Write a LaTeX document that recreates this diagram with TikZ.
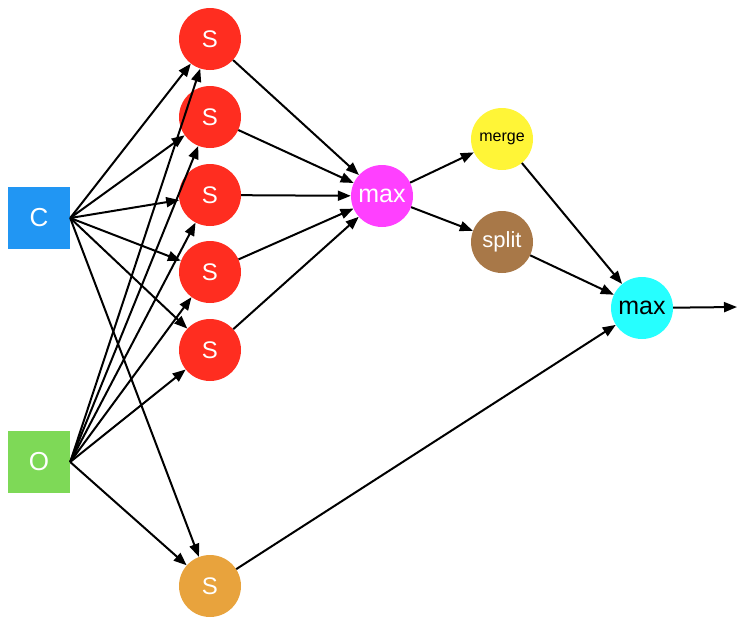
\documentclass[tikz,border=0pt]{standalone}
\usepackage{fontspec}
\setmainfont{Liberation Sans}
\usetikzlibrary{arrows.meta}
\definecolor{cblue}{RGB}{33,150,243}
\definecolor{cgreen}{RGB}{126,217,87}
\definecolor{cred}{RGB}{255,45,32}
\definecolor{corange}{RGB}{232,163,61}
\definecolor{cmag}{RGB}{255,64,255}
\definecolor{cyel}{RGB}{255,245,55}
\definecolor{cbrown}{RGB}{168,120,72}
\definecolor{ccyan}{RGB}{38,255,255}
\begin{document}
\begin{tikzpicture}[x=1pt,y=-1pt,
  box/.style={rectangle,minimum size=62pt,inner sep=0pt,text=white,font=\fontsize{26}{26}\selectfont},
  circ/.style={circle,minimum size=62pt,inner sep=0pt,text=white,font=\fontsize{24}{24}\selectfont},
  conn/.style={line width=2pt,-{Triangle[length=13pt,width=10pt]}}]
\useasboundingbox (0,0) rectangle (750,635);
\node[box,fill=cblue] (C) at (39,218) {C};
\node[box,fill=cgreen] (O) at (39,462) {O};
\node[circ,fill=cred] (s1) at (210,39) {S};
\node[circ,fill=cred] (s2) at (210,117) {S};
\node[circ,fill=cred] (s3) at (210,195) {S};
\node[circ,fill=cred] (s4) at (210,272) {S};
\node[circ,fill=cred] (s5) at (210,350) {S};
\node[circ,fill=corange] (s6) at (210,586) {S};
\node[circ,fill=cmag,font=\fontsize{25}{25}\selectfont] (m1) at (382,196) {max};
\node[circ,fill=cyel,text=black,font=\fontsize{16}{16}\selectfont] (mg) at (502,139) {merge};
\node[circ,fill=cbrown,font=\fontsize{22}{22}\selectfont] (sp) at (502,242) {split};
\node[circ,fill=ccyan,text=black,font=\fontsize{25}{25}\selectfont] (m2) at (642,308) {max};
\coordinate (out) at (737,307);
\foreach \t in {s1,s2,s3,s4,s5,s6}{
  \draw[conn] (C.east) -- (\t);
  \draw[conn] (O.east) -- (\t);
}
\foreach \t in {s1,s2,s3,s4,s5}{
  \draw[conn] (\t) -- (m1);
}
\draw[conn] (m1) -- (mg);
\draw[conn] (m1) -- (sp);
\draw[conn] (mg) -- (m2);
\draw[conn] (sp) -- (m2);
\draw[conn] (s6) -- (m2);
\draw[conn] (m2) -- (out);
\end{tikzpicture}
\end{document}
